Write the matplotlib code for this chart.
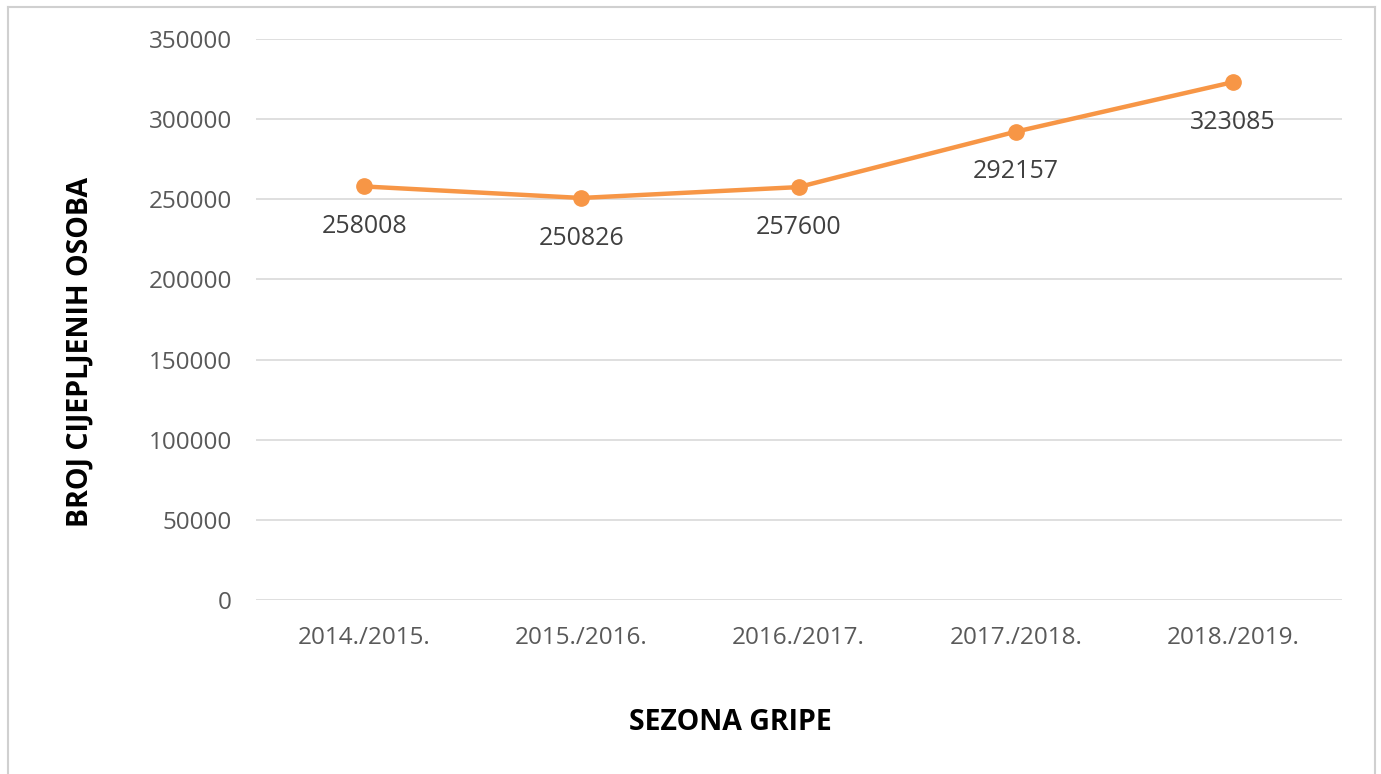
import matplotlib
matplotlib.use("Agg")
import matplotlib.pyplot as plt
from matplotlib.lines import Line2D

seasons = ["2014./2015.", "2015./2016.", "2016./2017.", "2017./2018.", "2018./2019."]
vaccinated = [258008, 250826, 257600, 292157, 323085]
yticks = [0, 50000, 100000, 150000, 200000, 250000, 300000, 350000]

plt.rcParams['font.family'] = ['Open Sans', 'DejaVu Sans']

W, H = 1381, 774
fig = plt.figure(figsize=(W / 100, H / 100), dpi=100)
ax = fig.add_axes([255.5 / W, 1 - 600 / H, (1341.5 - 255.5) / W, (600 - 39) / H])

x = list(range(len(seasons)))
ax.plot(x, vaccinated, color="#F79646", lw=3.2, marker="o", markersize=11, zorder=3,
        solid_capstyle="round")

for xi, v in zip(x, vaccinated):
    ax.annotate(str(v), (xi, v), xytext=(0, -29), textcoords="offset points",
                ha="center", va="center", fontsize=18, color="#404040")

ax.set_xlim(-0.5, len(seasons) - 0.5)
ax.set_ylim(0, 350000)
ax.set_yticks(yticks)
ax.set_yticklabels([str(t) for t in yticks])
ax.set_xticks(x)
ax.set_xticklabels(seasons)
ax.tick_params(axis="both", length=0, labelsize=17.5, labelcolor="#595959")
ax.tick_params(axis="y", pad=17)
ax.tick_params(axis="x", pad=19)
ax.grid(axis="y", color="#D9D9D9", lw=1.2)
ax.set_axisbelow(True)
for s in ax.spines.values():
    s.set_visible(False)

fig.text(80 / W, 1 - 352 / H, "BROJ CIJEPLJENIH OSOBA", rotation=90, ha="center", va="center",
         fontsize=20.5, fontweight="bold", color="#000000")
fig.text(730 / W, 1 - 722 / H, "SEZONA GRIPE", ha="center", va="center",
         fontsize=20.5, fontweight="bold", color="#000000")

# chart border
bc = "#D0D0D0"
fig.add_artist(Line2D([8 / W, 8 / W], [0, 1 - 7 / H], transform=fig.transFigure, color=bc, lw=1.5))
fig.add_artist(Line2D([1375 / W, 1375 / W], [0, 1 - 7 / H], transform=fig.transFigure, color=bc, lw=1.5))
fig.add_artist(Line2D([8 / W, 1375 / W], [1 - 7 / H, 1 - 7 / H], transform=fig.transFigure, color=bc, lw=1.5))

fig.savefig("out.png", dpi=100)
